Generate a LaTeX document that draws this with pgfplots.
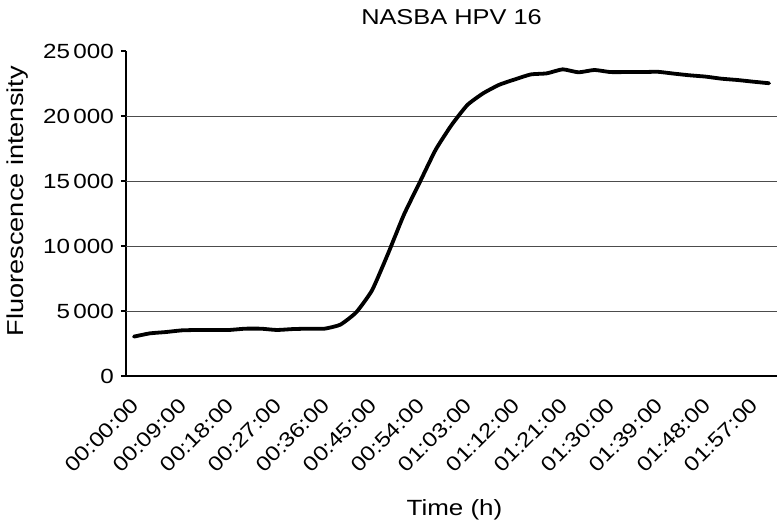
\documentclass[border=0pt]{standalone}
\usepackage{pgfplots}
\pgfplotsset{compat=1.18}
\usepackage{fontspec}
\setmainfont{Liberation Sans}[FakeStretch=1.18]
\begin{document}
\begin{tikzpicture}[x=1pt,y=1pt]
\path[use as bounding box] (0,0) rectangle (783,520);
\begin{axis}[
  scale only axis,
  width=651pt, height=325pt,
  at={(126pt,144pt)}, anchor=south west,
  xmin=-0.5, xmax=40.5,
  ymin=0, ymax=25000,
  axis lines=left,
  axis line style={-, line width=1.5pt},
  ytick={0,5000,10000,15000,20000,25000},
  scaled y ticks=false,
  /pgf/number format/.cd, 1000 sep={\,}, assume math mode=true,
  /pgfplots/.cd,
  yticklabel style={font=\fontsize{20.5pt}{24pt}\selectfont, inner sep=2pt, xshift=-5pt},
  xticklabel style={font=\fontsize{20.5pt}{24pt}\selectfont, xshift=-4pt, yshift=-14pt, rotate=45, anchor=north east, inner sep=1pt},
  xtick={0,3,...,39},
  xticklabels={00:00:00,00:09:00,00:18:00,00:27:00,00:36:00,00:45:00,00:54:00,01:03:00,01:12:00,01:21:00,01:30:00,01:39:00,01:48:00,01:57:00},
  major x tick style={draw=none},
  tick align=outside,
  major tick length=5pt,
  ytick style={line width=1.5pt, black},
  extra x ticks={-0.5,0.5,...,40.5},
  extra x tick labels={},
  extra x tick style={tick style={line width=1.5pt, black, draw=black}, major tick length=5pt},
  extra y ticks={5000,10000,15000,20000},
  extra y tick labels={},
  extra y tick style={grid=major, major grid style={line width=0.9pt, black!70}, tick style={draw=none}},
  title={NASBA HPV 16},
  title style={font=\fontsize{21.5pt}{25pt}\selectfont, at={(axis description cs:0.5,1)}, anchor=base, yshift=21pt, inner sep=0pt},
  xlabel={Time (h)},
  ylabel={Fluorescence intensity},
  xlabel style={font=\fontsize{22pt}{26pt}\selectfont, at={(axis description cs:0.5,0)}, anchor=base, yshift=-139pt, xshift=3pt, inner sep=0pt},
  ylabel style={font=\fontsize{23pt}{27pt}\selectfont, at={(axis description cs:-0.1567,0.538)}, anchor=base, inner sep=0pt},
  clip=false,
]
\addplot[black, line width=3.8pt, smooth, tension=0.3, line join=round, line cap=round] coordinates {
(0,3030)(1,3280)(2,3380)(3,3510)(4,3540)(5,3540)(6,3540)(7,3640)(8,3640)(9,3540)
(10,3610)(11,3640)(12,3640)(13,3950)(14,4900)(15,6600)(16,9400)(17,12400)(18,14900)(19,17400)
(20,19300)(21,20850)(22,21750)(23,22400)(24,22820)(25,23200)(26,23280)(27,23590)(28,23360)(29,23540)
(30,23380)(31,23380)(32,23380)(33,23400)(34,23260)(35,23130)(36,23030)(37,22870)(38,22770)(39,22640)
(40,22520)
};
\end{axis}
\end{tikzpicture}
\end{document}
